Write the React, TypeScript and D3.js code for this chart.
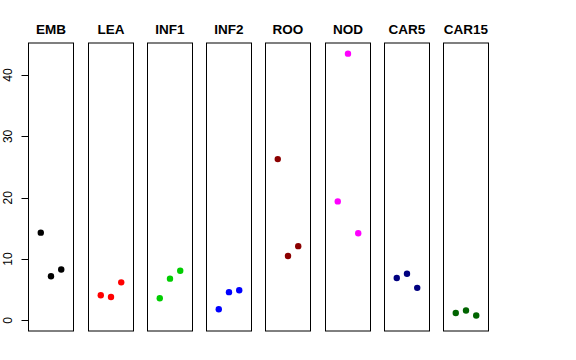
import React from "react";
import * as d3 from "d3";

const categories = ["EMB", "LEA", "INF1", "INF2", "ROO", "NOD", "CAR5", "CAR15"];
const colors = ["#000000", "#FF0000", "#00CD00", "#0000FF", "#8B0000", "#FF00FF", "#000080", "#006400"];
const values: number[][] = [
  [14.3, 7.2, 8.3],
  [4.1, 3.8, 6.2],
  [3.6, 6.8, 8.1],
  [1.8, 4.6, 4.9],
  [26.3, 10.5, 12.1],
  [19.4, 43.5, 14.2],
  [6.9, 7.6, 5.3],
  [1.2, 1.6, 0.8],
];
const yTicks = [0, 10, 20, 30, 40];

export default function App() {
  const W = 576, H = 360;
  const top = 43, bottom = 331;
  const panelW = 45;
  const firstLeft = 28.3;
  const pitch = 59.25;
  const ymax = d3.max(values.flat()) as number;
  const pad = ymax * 0.04;
  const y = d3.scaleLinear().domain([-pad, ymax + pad]).range([bottom, top]);
  const x = d3.scaleLinear().domain([-0.2, 4.2]).range([0, panelW]);
  const axisX = Math.round(firstLeft) + 0.5;

  return (
    <svg width={W} height={H} style={{ position: "absolute", left: 0, top: 0, background: "#fff" }}>
      <g fontFamily="Liberation Sans, Arial, sans-serif" fontSize={12}>
        <line x1={axisX} x2={axisX} y1={y(0)} y2={y(40)} stroke="#000" />
        {yTicks.map((t) => (
          <g key={t}>
            <line x1={axisX - 7} x2={axisX} y1={Math.round(y(t)) + 0.5} y2={Math.round(y(t)) + 0.5} stroke="#000" />
            <text transform={`translate(${12}, ${y(t)}) rotate(-90)`} textAnchor="middle">{t}</text>
          </g>
        ))}
      </g>
      {categories.map((c, i) => {
        const left = Math.round(firstLeft + i * pitch) + 0.5;
        return (
          <g key={c} transform={`translate(${left},0)`}>
            <rect x={0} y={top} width={panelW} height={bottom - top} fill="none" stroke="#000" strokeWidth={1} />
            <text x={panelW / 2} y={34} textAnchor="middle" fontFamily="Liberation Sans, Arial, sans-serif" fontWeight="bold" fontSize={13.5}>{c}</text>
            {values[i].map((v, j) => (
              <circle key={j} cx={x(j + 1)} cy={y(v)} r={3.2} fill={colors[i]} />
            ))}
          </g>
        );
      })}
    </svg>
  );
}
